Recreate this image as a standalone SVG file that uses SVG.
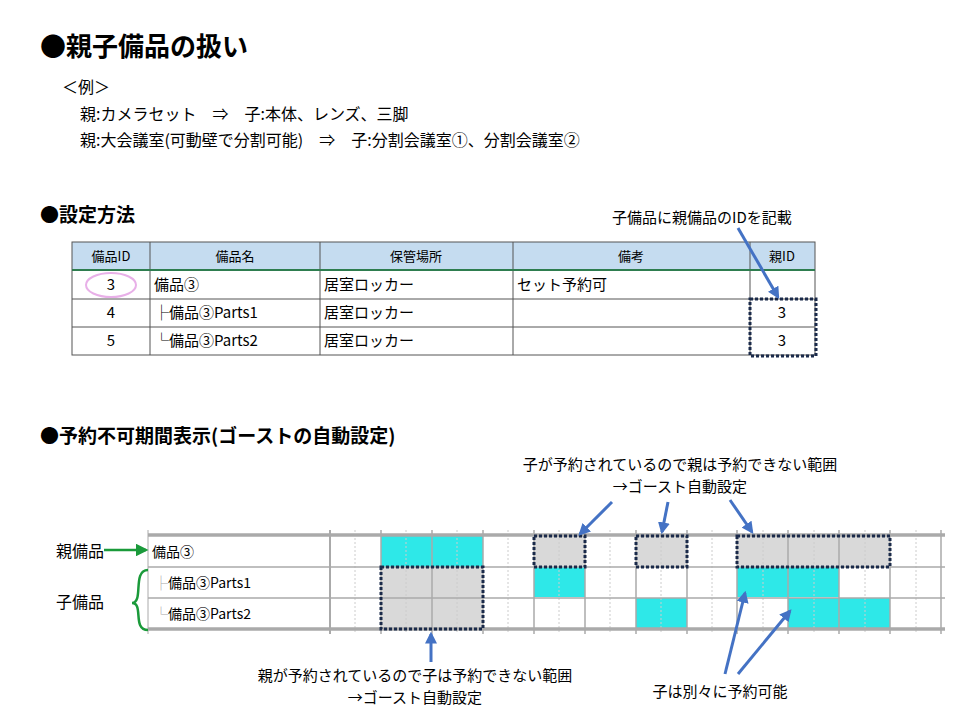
<svg xmlns="http://www.w3.org/2000/svg" width="960" height="720" viewBox="0 0 960 720">
<style>
text{font-family:"Noto Sans CJK JP","Liberation Sans",sans-serif;fill:#000}
.t{font-size:15px;fill:#333}
.h{font-size:13px;fill:#333}
.g{font-size:14px;fill:#444}
.cy{fill:#2ee8e8}
.gr{fill:#d9d9d9}
.dot{fill:none;stroke:#1a2a4a;stroke-width:3;stroke-dasharray:3 2}
.ar{stroke:#4472c4;stroke-width:3;fill:none;marker-end:url(#ab)}
</style>
<defs>
<marker id="ab" viewBox="0 0 10 10" refX="8" refY="5" markerWidth="4" markerHeight="4" orient="auto"><path d="M0,0L10,5L0,10z" fill="#4472c4"/></marker>
<marker id="ag" viewBox="0 0 10 10" refX="8" refY="5" markerWidth="5" markerHeight="5" orient="auto"><path d="M0,0L10,5L0,10z" fill="#1a9a3a"/></marker>
</defs>
<rect width="960" height="720" fill="#fff"/>
<text x="40" y="56" font-size="26" font-weight="bold">●親子備品の扱い</text>
<text x="62" y="93" font-size="16">＜例＞</text>
<text x="80" y="120" font-size="16">親:カメラセット　⇒　子:本体、レンズ、三脚</text>
<text x="80" y="146" font-size="16">親:大会議室(可動壁で分割可能)　⇒　子:分割会議室①、分割会議室②</text>
<text x="40" y="222" font-size="19" font-weight="bold">●設定方法</text>
<text x="612" y="223" font-size="15">子備品に親備品のIDを記載</text>
<g id="table">
<rect x="72" y="242" width="743" height="28" fill="#c5dcf0"/>
<g stroke="#555" stroke-width="1" fill="none">
<rect x="72" y="242" width="743" height="113"/>
<line x1="72" y1="299" x2="815" y2="299"/><line x1="72" y1="327" x2="815" y2="327"/>
<line x1="150" y1="242" x2="150" y2="355"/><line x1="320" y1="242" x2="320" y2="355"/>
<line x1="513" y1="242" x2="513" y2="355"/><line x1="750" y1="242" x2="750" y2="355"/>
</g>
<line x1="72" y1="270" x2="815" y2="270" stroke="#2e7d4f" stroke-width="2"/>
<g class="h" text-anchor="middle"><text x="111" y="261">備品ID</text><text x="235" y="261">備品名</text><text x="416" y="261">保管場所</text><text x="631" y="261">備考</text><text x="782" y="261">親ID</text></g>
<ellipse cx="111" cy="285" rx="25" ry="12" fill="none" stroke="#e8b0e8" stroke-width="2"/>
<g class="t"><text x="111" y="290" text-anchor="middle">3</text><text x="111" y="318" text-anchor="middle">4</text><text x="111" y="346" text-anchor="middle">5</text>
<text x="154" y="290">備品③</text><text x="154" y="318">├備品③Parts1</text><text x="154" y="346">└備品③Parts2</text>
<text x="324" y="290">居室ロッカー</text><text x="324" y="318">居室ロッカー</text><text x="324" y="346">居室ロッカー</text>
<text x="517" y="290">セット予約可</text>
<text x="782" y="318" text-anchor="middle">3</text><text x="782" y="346" text-anchor="middle">3</text></g>
<rect x="750" y="299" width="66" height="57" class="dot"/>
</g>
<text x="40" y="443" font-size="19" font-weight="bold">●予約不可期間表示(ゴーストの自動設定)</text>
<text x="680" y="470" font-size="15" text-anchor="middle">子が予約されているので親は予約できない範囲</text>
<text x="680" y="492" font-size="15" text-anchor="middle">→ゴースト自動設定</text>
<g id="chart">
<rect x="381" y="536" width="102" height="31" class="cy"/>
<rect x="534" y="567" width="51" height="30" class="cy"/><rect x="737" y="567" width="102" height="30" class="cy"/>
<rect x="636" y="598" width="51" height="31" class="cy"/><rect x="788" y="598" width="102" height="31" class="cy"/>
<rect x="534" y="536" width="51" height="31" class="gr"/><rect x="636" y="536" width="51" height="31" class="gr"/><rect x="737" y="536" width="153" height="31" class="gr"/>
<rect x="381" y="567" width="102" height="62" class="gr"/>
<g stroke="#ccc" stroke-dasharray="2 2">
<line x1="355" y1="530" x2="355" y2="634"/><line x1="406" y1="530" x2="406" y2="634"/><line x1="457" y1="530" x2="457" y2="634"/><line x1="508" y1="530" x2="508" y2="634"/><line x1="559" y1="530" x2="559" y2="634"/><line x1="610" y1="530" x2="610" y2="634"/><line x1="661" y1="530" x2="661" y2="634"/><line x1="712" y1="530" x2="712" y2="634"/><line x1="763" y1="530" x2="763" y2="634"/><line x1="814" y1="530" x2="814" y2="634"/><line x1="865" y1="530" x2="865" y2="634"/><line x1="916" y1="530" x2="916" y2="634"/>
</g>
<g stroke="#aaa" stroke-width="1.5">
<line x1="330" y1="530" x2="330" y2="634" stroke-width="2"/><line x1="381" y1="530" x2="381" y2="634"/><line x1="432" y1="530" x2="432" y2="634"/><line x1="483" y1="530" x2="483" y2="634"/><line x1="534" y1="530" x2="534" y2="634"/><line x1="585" y1="530" x2="585" y2="634"/><line x1="636" y1="530" x2="636" y2="634"/><line x1="687" y1="530" x2="687" y2="634"/><line x1="737" y1="530" x2="737" y2="634"/><line x1="788" y1="530" x2="788" y2="634"/><line x1="839" y1="530" x2="839" y2="634"/><line x1="890" y1="530" x2="890" y2="634"/><line x1="941" y1="530" x2="941" y2="634"/>
<line x1="148" y1="567" x2="945" y2="567"/><line x1="148" y1="598" x2="945" y2="598"/>
</g>
<line x1="148" y1="535" x2="945" y2="535" stroke="#aaa" stroke-width="3.5"/>
<line x1="148" y1="629" x2="945" y2="629" stroke="#aaa" stroke-width="3.5"/>
<line x1="148" y1="530" x2="148" y2="634" stroke="#aaa"/>
<g class="g"><text x="152" y="557">備品③</text><text x="154" y="588"><tspan fill="#aaa">├</tspan>備品③Parts1</text><text x="154" y="619"><tspan fill="#aaa">└</tspan>備品③Parts2</text></g>
<rect x="534" y="536" width="51" height="31" class="dot"/><rect x="636" y="536" width="51" height="31" class="dot"/><rect x="737" y="536" width="153" height="31" class="dot"/>
<rect x="381" y="567" width="102" height="62" class="dot"/>
</g>
<text x="56" y="557" font-size="16">親備品</text>
<text x="56" y="608" font-size="16">子備品</text>
<path d="M132,603 C144,603 132,570 148,570 M132,603 C144,603 132,630 148,630" stroke="#1a9a3a" stroke-width="2.5" fill="none"/>
<text x="415" y="681" font-size="15" text-anchor="middle">親が予約されているので子は予約できない範囲</text>
<text x="415" y="703" font-size="15" text-anchor="middle">→ゴースト自動設定</text>
<text x="720" y="697" font-size="15" text-anchor="middle">子は別々に予約可能</text>
<g id="connectors">
<line x1="104" y1="550" x2="146" y2="550" stroke="#1a9a3a" stroke-width="2.5" marker-end="url(#ag)"/>
<line x1="738" y1="228" x2="778" y2="297" class="ar"/>
<line x1="612" y1="502" x2="580" y2="534" class="ar"/>
<line x1="668" y1="502" x2="662" y2="532" class="ar"/>
<line x1="730" y1="500" x2="752" y2="532" class="ar"/>
<line x1="431" y1="662" x2="431" y2="634" class="ar"/>
<line x1="725" y1="674" x2="745" y2="593" class="ar"/>
<line x1="738" y1="674" x2="790" y2="611" class="ar"/>
</g>
</svg>
